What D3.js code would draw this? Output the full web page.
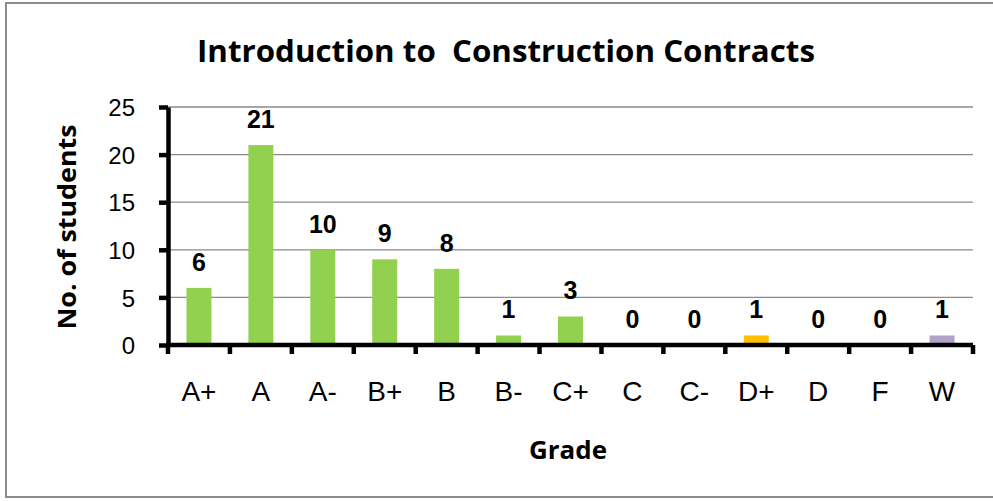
<!DOCTYPE html>
<html>
<head>
<meta charset="utf-8">
<script src="https://cdn.jsdelivr.net/npm/d3@7"></script>
<style>
  body { margin: 0; background: #fff; }
  svg { display: block; }
</style>
</head>
<body>
<svg id="chart"></svg>
<script>
const grades = ["A+", "A", "A-", "B+", "B", "B-", "C+", "C", "C-", "D+", "D", "F", "W"];
const counts = [6, 21, 10, 9, 8, 1, 3, 0, 0, 1, 0, 0, 1];
const barColors = ["#92d050", "#92d050", "#92d050", "#92d050", "#92d050", "#92d050", "#92d050",
  "#92d050", "#92d050", "#ffc000", "#92d050", "#92d050", "#b3a2c7"];
const yTicks = [0, 5, 10, 15, 20, 25];

const width = 993;
const height = 501;
const margin = { top: 107, right: 20, bottom: 156, left: 168 };
const font = "'Liberation Sans', Arial, sans-serif";

const svg = d3.select("#chart").attr("width", width).attr("height", height);

// outer frame
svg.append("rect")
  .attr("x", 6).attr("y", 3)
  .attr("width", 990).attr("height", 494)
  .attr("fill", "none")
  .attr("stroke", "#8c8c8c")
  .attr("stroke-width", 2);

const innerWidth = width - margin.left - margin.right;
const innerHeight = height - margin.top - margin.bottom;

const chart = svg.append("g")
  .attr("transform", `translate(${margin.left}, ${margin.top})`);

const xband = d3.scaleBand().domain(grades).range([0, innerWidth]);
const yscale = d3.scaleLinear().domain([0, 25]).range([innerHeight, 0]);
const barWidth = 25;

// gridlines
chart.selectAll(".grid")
  .data(yTicks.slice(1))
  .join("line")
  .attr("class", "grid")
  .attr("x1", 0).attr("x2", innerWidth)
  .attr("y1", (d) => yscale(d)).attr("y2", (d) => yscale(d))
  .attr("stroke", "#8a8a8a")
  .attr("stroke-width", 1.3);

// bars
chart.selectAll(".bar")
  .data(grades)
  .join("rect")
  .attr("class", "bar")
  .attr("x", (d) => xband(d) + (xband.bandwidth() - barWidth) / 2)
  .attr("width", barWidth)
  .attr("y", (d, i) => yscale(counts[i]))
  .attr("height", (d, i) => innerHeight - yscale(counts[i]))
  .attr("fill", (d, i) => barColors[i]);

// value labels
const valg = chart.append("g")
  .attr("text-anchor", "middle")
  .style("font-family", font)
  .style("font-weight", "bold")
  .style("font-size", "25px");
valg.selectAll("text")
  .data(grades)
  .join("text")
  .attr("x", (d) => xband(d) + xband.bandwidth() / 2)
  .attr("y", (d, i) => yscale(counts[i]) - 17)
  .text((d, i) => counts[i]);

// y axis
const yaxis = d3.axisLeft(yscale).tickValues(yTicks).tickSize(9).tickPadding(24).tickSizeOuter(0);
const yg = chart.append("g").call(yaxis);
yg.select(".domain").attr("stroke", "#000").attr("stroke-width", 4.5);
yg.selectAll(".tick line").attr("stroke", "#000").attr("stroke-width", 4.5);
yg.selectAll(".tick text")
  .attr("dy", "0.36em")
  .style("font-family", font)
  .style("font-size", "24px")
  .attr("fill", "#000");

// x axis labels (centered in bands)
const xaxis = d3.axisBottom(xband).tickSize(0).tickPadding(36).tickSizeOuter(0);
const xg = chart.append("g").attr("transform", `translate(0, ${innerHeight})`).call(xaxis);
xg.select(".domain").remove();
xg.selectAll(".tick text")
  .style("font-family", font)
  .style("font-size", "28px")
  .attr("fill", "#000");

// x axis line with ticks at category boundaries
const xline = chart.append("g").attr("transform", `translate(0, ${innerHeight})`);
xline.append("line")
  .attr("x1", -2).attr("x2", innerWidth)
  .attr("stroke", "#000").attr("stroke-width", 4.5);
xline.selectAll(".xtick")
  .data(grades.map((d) => xband(d) + xband.bandwidth()).concat([0]))
  .join("line")
  .attr("class", "xtick")
  .attr("x1", (d) => d).attr("x2", (d) => d)
  .attr("y1", 0).attr("y2", 9)
  .attr("stroke", "#000").attr("stroke-width", 4.5);

// title
svg.append("text")
  .attr("x", 506).attr("y", 62)
  .attr("text-anchor", "middle")
  .attr("textLength", 618)
  .attr("lengthAdjust", "spacingAndGlyphs")
  .style("font-family", "'Open Sans', sans-serif")
  .style("font-weight", "bold")
  .style("font-size", "30px")
  .style("white-space", "pre")
  .text("Introduction to  Construction Contracts");

// axis titles
svg.append("text")
  .attr("transform", "translate(76, 227) rotate(-90)")
  .attr("text-anchor", "middle")
  .attr("textLength", 205)
  .attr("lengthAdjust", "spacingAndGlyphs")
  .style("font-family", "'Open Sans', sans-serif")
  .style("font-weight", "bold")
  .style("font-size", "25px")
  .text("No. of students");

svg.append("text")
  .attr("x", 568).attr("y", 459)
  .attr("text-anchor", "middle")
  .attr("textLength", 78)
  .attr("lengthAdjust", "spacingAndGlyphs")
  .style("font-family", "'Open Sans', sans-serif")
  .style("font-weight", "bold")
  .style("font-size", "25px")
  .text("Grade");
</script>
</body>
</html>
